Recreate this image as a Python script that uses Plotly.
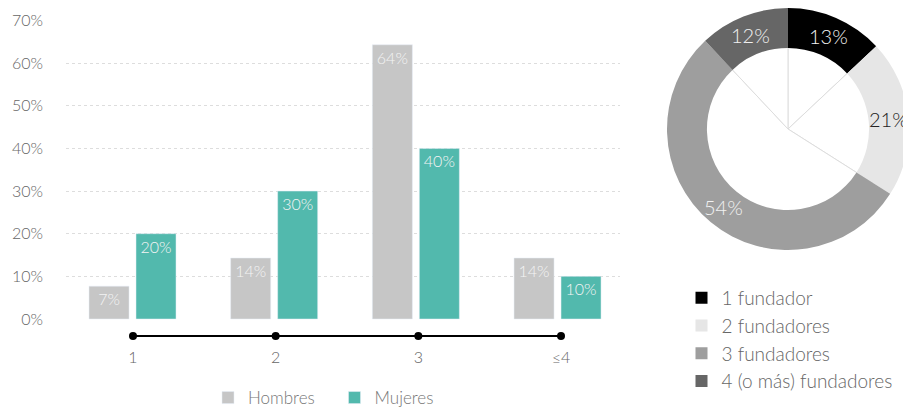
import math
import plotly.graph_objects as go

# ---- data ----
categories = ["1", "2", "3", "≤4"]
hombres = [7.7, 14.3, 64.3, 14.3]
hombres_labels = ["7%", "14%", "64%", "14%"]
mujeres = [20, 30, 40, 10]
mujeres_labels = ["20%", "30%", "40%", "10%"]
y_ticks = [0, 10, 20, 30, 40, 50, 60, 70]

pie_labels = ["1 fundador", "2 fundadores", "3 fundadores", "4 (o más) fundadores"]
pie_values = [13, 21, 54, 12]

# ---- style ----
FONT = "Lato"
GRAY_TXT = "#666666"
C_H = "#c6c6c6"
C_M = "#52b9ad"
PIE_COLORS = ["#000000", "#e6e6e6", "#9e9e9e", "#666666"]
PIE_TEXT = ["#f4f4f4", "#222222", "#f2f2f2", "#f0f0f0"]
HOLE = 0.67

# the page has an 8px body margin: map window pixels to figure fractions
OFF = 8
W, H = 911 - OFF, 407 - OFF
def px(x):
    return (x - OFF) / W
def py(y):
    return (H - (y - OFF)) / H

idx = list(range(len(categories)))

fig = go.Figure()

bar_font = dict(color="#f4f4f4", size=16, family=FONT, weight=300)
fig.add_trace(go.Bar(
    x=idx, y=hombres, name="Hombres", marker_color=C_H,
    width=0.2824, offset=-0.307,
    text=hombres_labels, textposition="inside", insidetextanchor="end",
    textangle=0, constraintext="none", textfont=bar_font,
    legend="legend", hoverinfo="skip",
))
fig.add_trace(go.Bar(
    x=idx, y=mujeres, name="Mujeres", marker_color=C_M,
    width=0.2824, offset=0.0247,
    text=mujeres_labels, textposition="inside", insidetextanchor="end",
    textangle=0, constraintext="none", textfont=bar_font,
    legend="legend", hoverinfo="skip",
))

# timeline axis line with dots
fig.add_trace(go.Scatter(
    x=idx, y=[0] * len(idx), xaxis="x2", yaxis="y2",
    mode="lines+markers", line=dict(color="#000000", width=2),
    marker=dict(color="#000000", size=8), showlegend=False, hoverinfo="skip",
))

# thin spokes inside the donut hole
fig.add_trace(go.Pie(
    values=pie_values, labels=pie_labels, sort=False, direction="clockwise",
    rotation=0, marker=dict(colors=["#ffffff"] * 4, line=dict(color="#dddddd", width=1)),
    textinfo="none", showlegend=False, hoverinfo="skip",
    domain=dict(x=[px(688), px(888)], y=[py(229), py(29)]),
))

PIE_X = [px(667), px(909)]
PIE_Y = [py(250), py(8)]
fig.add_trace(go.Pie(
    values=pie_values, labels=pie_labels, sort=False, direction="clockwise",
    rotation=0, hole=HOLE,
    marker=dict(colors=PIE_COLORS, line=dict(width=0)),
    textinfo="none",
    domain=dict(x=PIE_X, y=PIE_Y),
    legend="legend2", hoverinfo="skip",
))

# slice labels at the middle of each ring segment (positions derived from values)
total = sum(pie_values)
rmid = (1 + HOLE) / 2
cum = 0
annotations = []
for v, col in zip(pie_values, PIE_TEXT):
    ang = 2 * math.pi * (cum + v / 2) / total
    cum += v
    annotations.append(dict(
        x=rmid * math.sin(ang), y=rmid * math.cos(ang), xref="x3", yref="y3",
        text=f"{v}%", showarrow=False,
        font=dict(color=col, size=20, family=FONT, weight=300),
    ))

fig.update_layout(
    width=W, height=H,
    margin=dict(l=0, r=0, t=0, b=0, autoexpand=False),
    paper_bgcolor="white", plot_bgcolor="white",
    font=dict(family=FONT, color=GRAY_TXT, size=16, weight=300),
    barmode="overlay",
    annotations=annotations,
    xaxis=dict(
        domain=[px(66), px(620)], range=[-0.4694, 3.441], anchor="y",
        showticklabels=False, showgrid=False, zeroline=False,
        showline=False, ticks="", automargin=False,
    ),
    xaxis2=dict(
        domain=[px(66), px(620)], range=[-0.4696, 3.4135], anchor="y2",
        tickvals=idx, ticktext=categories, showgrid=False, zeroline=False,
        showline=False, ticks="", tickfont=dict(size=16, color=GRAY_TXT),
        automargin=False,
    ),
    yaxis=dict(
        domain=[py(319.85), py(19.65)], range=[-0.2, 70.2], anchor="x",
        tickvals=y_ticks, ticktext=[f"{v}%" for v in y_ticks],
        showgrid=True, gridcolor="#dddddd", griddash="dot", gridwidth=1,
        zeroline=False, showline=False, ticks="", ticklabelstandoff=22,
        tickfont=dict(size=16, color=GRAY_TXT), automargin=False,
    ),
    yaxis2=dict(
        domain=[py(346), py(326)], range=[-1, 1], visible=False, anchor="x2",
    ),
    xaxis3=dict(domain=PIE_X, range=[-1, 1], visible=False, anchor="y3"),
    yaxis3=dict(domain=PIE_Y, range=[-1, 1], visible=False, anchor="x3"),
    legend=dict(
        orientation="h", x=px(208), xanchor="left", y=py(398), yanchor="middle",
        bgcolor="rgba(0,0,0,0)", font=dict(size=17, color="#777777"),
        entrywidth=81.5, itemclick=False, itemdoubleclick=False,
    ),
    legend2=dict(
        orientation="v", x=px(681.5), xanchor="left", y=py(279), yanchor="top",
        bgcolor="rgba(0,0,0,0)", font=dict(size=19, color=GRAY_TXT),
        itemclick=False, itemdoubleclick=False,
    ),
)

fig.write_html("out.html")
